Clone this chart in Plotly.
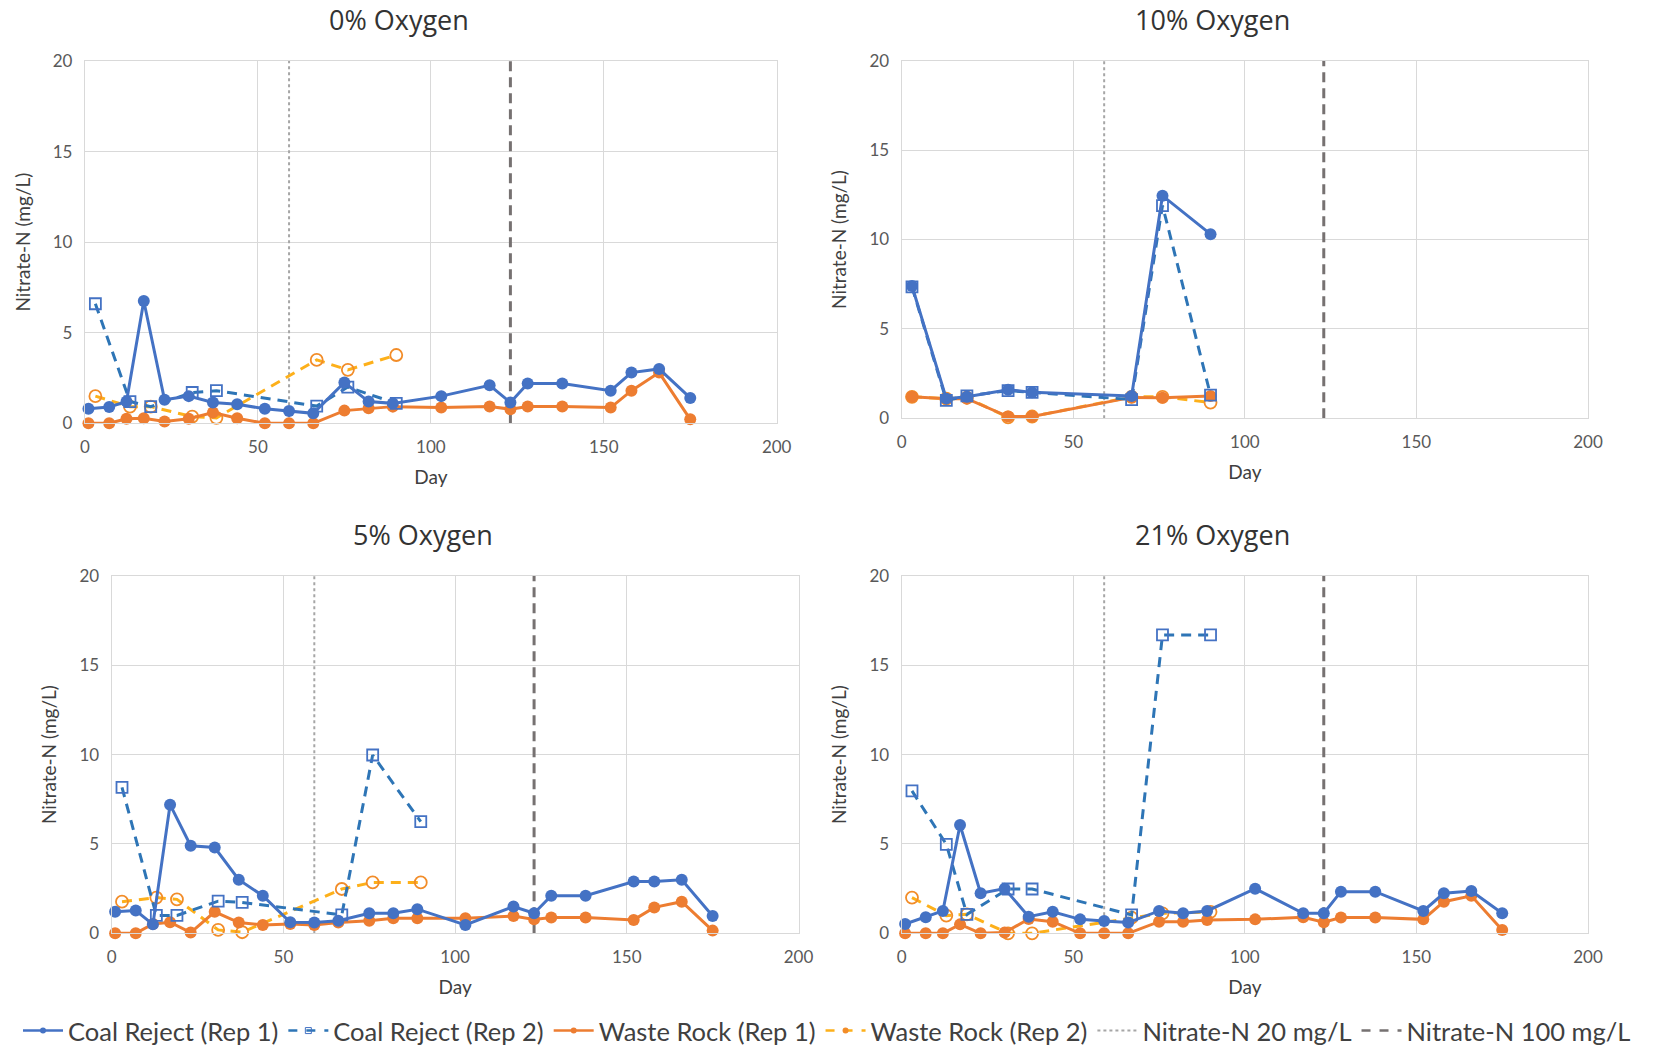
import plotly.graph_objects as go

# ---------------- data ----------------
days_rep1 = [1, 7, 12, 17, 23, 30, 37, 44, 52, 59, 66, 75, 82, 89, 103, 117, 123, 128, 138, 152, 158, 166, 175]
days_rep2 = [3, 13, 19, 31, 38, 67, 76, 90]
days_10 = [3, 13, 19, 31, 38, 67, 76, 90]

# 0% Oxygen
o0_coal1 = [0.8, 0.9, 1.2, 6.75, 1.3, 1.5, 1.15, 1.05, 0.8, 0.68, 0.55, 2.25, 1.2, 1.1, 1.5, 2.1, 1.15, 2.2, 2.2, 1.8, 2.8, 3.0, 1.4]
o0_waste1 = [0.0, 0.0, 0.25, 0.28, 0.1, 0.25, 0.6, 0.28, 0.0, 0.0, 0.0, 0.7, 0.83, 0.92, 0.87, 0.93, 0.78, 0.93, 0.93, 0.87, 1.8, 2.8, 0.22]
o0_coal2 = [6.6, 1.2, 0.92, 1.7, 1.8, 0.95, 2.0, 1.1]
o0_waste2 = [1.5, 0.92, 0.92, 0.37, 0.3, 3.5, 2.95, 3.77]

# 10% Oxygen
o10_coal1 = [7.4, 1.1, 1.2, 1.6, 1.45, 1.25, 12.45, 10.3]
o10_coal2 = [7.35, 1.0, 1.25, 1.55, 1.45, 1.05, 11.9, 1.3]
o10_waste1 = [1.2, 1.1, 1.1, 0.1, 0.1, 1.17, 1.15, 1.25]
o10_waste2 = [1.2, 1.1, 1.15, 0.05, 0.1, 1.2, 1.2, 0.88]

# 5% Oxygen
o5_coal1 = [1.2, 1.27, 0.5, 7.2, 4.9, 4.8, 3.0, 2.1, 0.62, 0.6, 0.7, 1.12, 1.12, 1.35, 0.47, 1.5, 1.12, 2.1, 2.1, 2.9, 2.9, 3.0, 0.97]
o5_waste1 = [0.0, 0.0, 0.52, 0.62, 0.04, 1.2, 0.6, 0.47, 0.52, 0.47, 0.6, 0.7, 0.84, 0.84, 0.84, 0.97, 0.78, 0.88, 0.88, 0.75, 1.45, 1.77, 0.15]
o5_coal2 = [8.17, 1.0, 1.0, 1.8, 1.73, 1.03, 9.98, 6.25]
o5_waste2 = [1.77, 2.0, 1.9, 0.19, 0.06, 2.48, 2.85, 2.85]

# 21% Oxygen
o21_coal1 = [0.52, 0.9, 1.25, 6.06, 2.24, 2.5, 0.93, 1.2, 0.78, 0.69, 0.6, 1.25, 1.12, 1.25, 2.5, 1.12, 1.12, 2.33, 2.33, 1.25, 2.24, 2.37, 1.12]
o21_waste1 = [0.0, 0.0, 0.0, 0.5, 0.0, 0.04, 0.8, 0.65, 0.0, 0.0, 0.0, 0.65, 0.65, 0.75, 0.78, 0.9, 0.62, 0.88, 0.88, 0.78, 1.77, 2.1, 0.19]
o21_coal2 = [7.97, 4.98, 1.06, 2.48, 2.48, 1.03, 16.7, 16.7]
o21_waste2 = [2.0, 0.99, 1.06, 0.0, 0.0, 0.88, 1.12, 1.2]

# reference days (nitrate-N loading changes)
ref_day_20 = 59
ref_day_100 = 123
ref_y = [0, 20]

panel_titles = ["0% Oxygen", "10% Oxygen", "5% Oxygen", "21% Oxygen"]
series_names = ["Coal Reject (Rep 1)", "Coal Reject (Rep 2)", "Waste Rock (Rep 1)",
                "Waste Rock (Rep 2)", "Nitrate-N 20 mg/L", "Nitrate-N 100 mg/L"]
x_ticks = [0, 50, 100, 150, 200]
y_ticks = [0, 5, 10, 15, 20]

# ---------------- style ----------------
C_COAL1 = "#4472C4"
C_COAL2_LINE = "#2E75B6"
C_COAL2_MK = "#4472C4"
C_WASTE1 = "#ED7D31"
C_WASTE2_LINE = "#FDB01A"
C_WASTE2_MK = "#F28C28"
C_REF20 = "#A6A6A6"
C_REF100 = "#767171"
FONT = "Lato"
W, H = 1654, 1047

panels = [
    dict(ax="", d1=days_rep1, d2=days_rep2, c1=o0_coal1, c2=o0_coal2, w1=o0_waste1, w2=o0_waste2,
         xpx=(85, 776.7), ypx=(61, 423.3), title=panel_titles[0], tpos=(399, 19)),
    dict(ax="2", d1=days_10, d2=days_10, c1=o10_coal1, c2=o10_coal2, w1=o10_waste1, w2=o10_waste2,
         xpx=(901.7, 1588), ypx=(60.7, 418.3), title=panel_titles[1], tpos=(1212, 19)),
    dict(ax="3", d1=days_rep1, d2=days_rep2, c1=o5_coal1, c2=o5_coal2, w1=o5_waste1, w2=o5_waste2,
         xpx=(111.7, 798.5), ypx=(576, 933.3), title=panel_titles[2], tpos=(423, 534)),
    dict(ax="4", d1=days_rep1, d2=days_rep2, c1=o21_coal1, c2=o21_coal2, w1=o21_waste1, w2=o21_waste2,
         xpx=(901.7, 1588), ypx=(576, 933.3), title=panel_titles[3], tpos=(1212, 534)),
]

fig = go.Figure()
layout = dict(width=W, height=H, margin=dict(l=0, r=0, t=0, b=0, autoexpand=False),
              paper_bgcolor="white", plot_bgcolor="white",
              font=dict(family=FONT, color="#595959"), showlegend=True)
annotations = []

for p in panels:
    xa = "x" + p["ax"]
    ya = "y" + p["ax"]
    common = dict(xaxis=xa, yaxis=ya, showlegend=False, cliponaxis=False, hoverinfo="x+y")
    # reference lines
    fig.add_trace(go.Scatter(x=[ref_day_20, ref_day_20], y=ref_y, mode="lines",
                             line=dict(color=C_REF20, width=2, dash="dot"), **common))
    fig.add_trace(go.Scatter(x=[ref_day_100, ref_day_100], y=ref_y, mode="lines",
                             line=dict(color=C_REF100, width=3, dash="10px,6px"), **common))
    # Waste rock rep 2
    fig.add_trace(go.Scatter(x=p["d2"], y=p["w2"], mode="lines+markers",
                             line=dict(color=C_WASTE2_LINE, width=3, dash="10px,7px"),
                             marker=dict(symbol="circle-open", size=12, color=C_WASTE2_MK,
                                         line=dict(width=1.8, color=C_WASTE2_MK)), **common))
    # Waste rock rep 1
    fig.add_trace(go.Scatter(x=p["d1"], y=p["w1"], mode="lines+markers",
                             line=dict(color=C_WASTE1, width=3),
                             marker=dict(symbol="circle", size=12, color=C_WASTE1), **common))
    # Coal reject rep 2
    fig.add_trace(go.Scatter(x=p["d2"], y=p["c2"], mode="lines+markers",
                             line=dict(color=C_COAL2_LINE, width=3, dash="10px,7px"),
                             marker=dict(symbol="square-open", size=11, color=C_COAL2_MK,
                                         line=dict(width=1.8, color=C_COAL2_MK)), **common))
    # Coal reject rep 1
    fig.add_trace(go.Scatter(x=p["d1"], y=p["c1"], mode="lines+markers",
                             line=dict(color=C_COAL1, width=3),
                             marker=dict(symbol="circle", size=12, color=C_COAL1), **common))

    x0, x1 = p["xpx"]
    ytop, ybot = p["ypx"]
    axis_common = dict(showgrid=True, gridcolor="#D9D9D9", gridwidth=1.3, zeroline=False,
                       showline=True, mirror=True, linecolor="#D9D9D9", linewidth=1.3,
                       ticks="", tickfont=dict(family=FONT, size=17, color="#595959"),
                       ticklabelstandoff=8, automargin=False)
    layout["xaxis" + p["ax"]] = dict(domain=[x0 / W, x1 / W], range=[0, 200], tickvals=x_ticks,
                                     anchor=ya,
                                     title=dict(text="Day", font=dict(family=FONT, size=19, color="#404040"),
                                                standoff=14),
                                     **axis_common)
    layout["yaxis" + p["ax"]] = dict(domain=[1 - ybot / H, 1 - ytop / H], range=[0, 20], tickvals=y_ticks,
                                     anchor=xa,
                                     title=dict(text="Nitrate-N (mg/L)", font=dict(family=FONT, size=19, color="#404040"),
                                                standoff=17),
                                     **axis_common)
    annotations.append(dict(text=p["title"], x=p["tpos"][0] / W, y=1 - p["tpos"][1] / H,
                            xref="paper", yref="paper", showarrow=False, xanchor="center", yanchor="middle",
                            font=dict(family="Open Sans", size=27, color="#333333")))

# legend-only traces (small symbols as in the reference legend)
leg = dict(x=[None], y=[None], mode="lines+markers", xaxis="x", yaxis="y", showlegend=True)
fig.add_trace(go.Scatter(name=series_names[0], line=dict(color=C_COAL1, width=2.5),
                         marker=dict(symbol="circle", size=6, color=C_COAL1), **leg))
fig.add_trace(go.Scatter(name=series_names[1], line=dict(color=C_COAL2_LINE, width=2.5, dash="dash"),
                         marker=dict(symbol="square-open", size=6, color=C_COAL2_MK), **leg))
fig.add_trace(go.Scatter(name=series_names[2], line=dict(color=C_WASTE1, width=2.5),
                         marker=dict(symbol="circle", size=6, color=C_WASTE1), **leg))
fig.add_trace(go.Scatter(name=series_names[3], line=dict(color=C_WASTE2_LINE, width=2.5, dash="dash"),
                         marker=dict(symbol="circle", size=6, color=C_WASTE2_MK), **leg))
leg_l = dict(x=[None], y=[None], mode="lines", xaxis="x", yaxis="y", showlegend=True)
fig.add_trace(go.Scatter(name=series_names[4], line=dict(color=C_REF20, width=2, dash="dot"), **leg_l))
fig.add_trace(go.Scatter(name=series_names[5], line=dict(color=C_REF100, width=2.5, dash="dash"), **leg_l))

layout["annotations"] = annotations
layout["legend"] = dict(orientation="h", x=0.5, xanchor="center", y=1 - 1031 / H, yanchor="middle",
                        font=dict(family=FONT, size=25.5, color="#404040"), itemwidth=40,
                        bgcolor="rgba(0,0,0,0)", tracegroupgap=0)
fig.update_layout(**layout)

fig.write_html("out.html")
